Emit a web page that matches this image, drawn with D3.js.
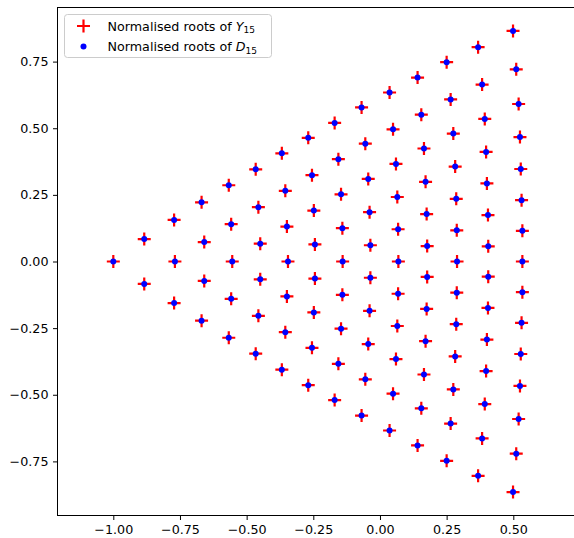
<!DOCTYPE html>
<html>
<head>
<meta charset="utf-8">
<script src="https://cdn.jsdelivr.net/npm/d3@7"></script>
<style>
  html, body { margin: 0; padding: 0; background: #ffffff; }
  svg { display: block; font-family: "DejaVu Sans", sans-serif; }
</style>
</head>
<body>
<svg id="chart" width="574" height="538"></svg>
<script>
// Normalised roots, column by column from the left vertex (-1, 0) to the right edge.
// Real parts
const rootsRe = [
  -1.000,
  -0.884, -0.884,
  -0.772, -0.769, -0.772,
  -0.669, -0.659, -0.659, -0.669,
  -0.567, -0.558, -0.554, -0.558, -0.567,
  -0.466, -0.456, -0.449, -0.449, -0.456, -0.466,
  -0.368, -0.355, -0.349, -0.345, -0.349, -0.355, -0.368,
  -0.269, -0.255, -0.248, -0.244, -0.244, -0.248, -0.255, -0.269,
  -0.170, -0.156, -0.146, -0.141, -0.140, -0.141, -0.146, -0.156, -0.170,
  -0.069, -0.055, -0.044, -0.039, -0.036, -0.036, -0.039, -0.044, -0.055, -0.069,
  0.036, 0.049, 0.060, 0.065, 0.068, 0.069, 0.068, 0.065, 0.060, 0.049, 0.036,
  0.141, 0.155, 0.165, 0.171, 0.175, 0.177, 0.177, 0.175, 0.171, 0.165, 0.155, 0.141,
  0.250, 0.265, 0.275, 0.282, 0.286, 0.288, 0.289, 0.288, 0.286, 0.282, 0.275, 0.265, 0.250,
  0.368, 0.383, 0.393, 0.398, 0.401, 0.405, 0.406, 0.406, 0.405, 0.401, 0.398, 0.393, 0.383, 0.368,
  0.499, 0.511, 0.520, 0.525, 0.528, 0.531, 0.534, 0.534, 0.534, 0.531, 0.528, 0.525, 0.520, 0.511, 0.499
];
// Imaginary parts
const rootsIm = [
  0.000,
  0.084, -0.084,
  0.156, 0.000, -0.156,
  0.222, 0.073, -0.073, -0.222,
  0.286, 0.140, 0.000, -0.140, -0.286,
  0.346, 0.204, 0.067, -0.067, -0.204, -0.346,
  0.406, 0.265, 0.131, 0.000, -0.131, -0.265, -0.406,
  0.464, 0.324, 0.191, 0.064, -0.064, -0.191, -0.324, -0.464,
  0.520, 0.384, 0.252, 0.125, 0.000, -0.125, -0.252, -0.384, -0.520,
  0.578, 0.442, 0.310, 0.185, 0.061, -0.061, -0.185, -0.310, -0.442, -0.578,
  0.634, 0.496, 0.366, 0.242, 0.121, 0.000, -0.121, -0.242, -0.366, -0.496, -0.634,
  0.690, 0.551, 0.424, 0.299, 0.178, 0.058, -0.058, -0.178, -0.299, -0.424, -0.551, -0.690,
  0.748, 0.608, 0.480, 0.356, 0.235, 0.117, 0.000, -0.117, -0.235, -0.356, -0.480, -0.608, -0.748,
  0.804, 0.664, 0.535, 0.411, 0.293, 0.174, 0.057, -0.057, -0.174, -0.293, -0.411, -0.535, -0.664, -0.804,
  0.865, 0.721, 0.591, 0.467, 0.347, 0.230, 0.115, 0.000, -0.115, -0.230, -0.347, -0.467, -0.591, -0.721, -0.865
];

const xTicks = [-1.00, -0.75, -0.50, -0.25, 0.00, 0.25, 0.50];
const yTicks = [-0.75, -0.50, -0.25, 0.00, 0.25, 0.50, 0.75];

const seriesNames = ["Normalised roots of ", "Normalised roots of "];
const seriesSymbols = ["Y", "D"];
const seriesIndex = "15";

const points = rootsRe.map((re, i) => ({ re, im: rootsIm[i] }));

const svg = d3.select("#chart");
const plot = { left: 57.5, right: 574.5, top: 7.5, bottom: 515.5 };

const x = d3.scaleLinear().domain([-1.2093, 0.7295]).range([plot.left, plot.right]);
const y = d3.scaleLinear().domain([-0.953, 0.953]).range([plot.bottom, plot.top]);

svg.append("rect").attr("width", 574).attr("height", 538).attr("fill", "#ffffff");

const fmt = d3.format(".2f");

// Axes
const xAxis = svg.append("g")
  .attr("transform", `translate(0,${plot.bottom})`)
  .call(d3.axisBottom(x).tickValues(xTicks).tickSize(4.5).tickPadding(4.5).tickFormat(fmt));
const yAxis = svg.append("g")
  .attr("transform", `translate(${plot.left},0)`)
  .call(d3.axisLeft(y).tickValues(yTicks).tickSize(4.5).tickPadding(4.5).tickFormat(fmt));

[xAxis, yAxis].forEach(g => {
  g.select(".domain").remove();
  g.selectAll(".tick line").attr("stroke", "#000").attr("stroke-width", 1);
  g.selectAll(".tick text")
    .attr("fill", "#000")
    .attr("font-family", "DejaVu Sans, sans-serif")
    .attr("font-size", 12.7);
});

// Frame
svg.append("rect")
  .attr("x", plot.left).attr("y", plot.top)
  .attr("width", plot.right - plot.left).attr("height", plot.bottom - plot.top)
  .attr("fill", "none").attr("stroke", "#000").attr("stroke-width", 1);

const plusPath = "M-6.5,0H6.5M0,-6.5V6.5";

// Roots of Y_15: red plus markers
svg.append("g").selectAll("path")
  .data(points)
  .join("path")
  .attr("transform", d => `translate(${x(d.re)},${y(d.im)})`)
  .attr("d", plusPath)
  .attr("stroke", "#ff0000")
  .attr("stroke-width", 2.2)
  .attr("fill", "none");

// Roots of D_15: blue dots
svg.append("g").selectAll("circle")
  .data(points)
  .join("circle")
  .attr("cx", d => x(d.re))
  .attr("cy", d => y(d.im))
  .attr("r", 3)
  .attr("fill", "#0000ff");

// Legend
const legend = svg.append("g");
legend.append("rect")
  .attr("x", 64.5).attr("y", 14.5)
  .attr("width", 207).attr("height", 43)
  .attr("rx", 3).attr("ry", 3)
  .attr("fill", "#ffffff").attr("fill-opacity", 0.8)
  .attr("stroke", "#cccccc").attr("stroke-width", 1);

const rowY = [26, 46.5];
legend.append("path")
  .attr("transform", `translate(83.5,${rowY[0]})`)
  .attr("d", plusPath)
  .attr("stroke", "#ff0000").attr("stroke-width", 2.2).attr("fill", "none");
legend.append("circle")
  .attr("cx", 83.5).attr("cy", rowY[1]).attr("r", 3)
  .attr("fill", "#0000ff");

seriesNames.forEach((name, i) => {
  const t = legend.append("text")
    .attr("x", 107.5).attr("y", rowY[i] + 4.5)
    .attr("font-size", 12.7)
    .attr("fill", "#000");
  t.append("tspan").text(name);
  t.append("tspan").attr("font-style", "italic").text(seriesSymbols[i]);
  t.append("tspan").attr("font-size", 9).attr("dy", 2.5).text(seriesIndex);
});
</script>
</body>
</html>
